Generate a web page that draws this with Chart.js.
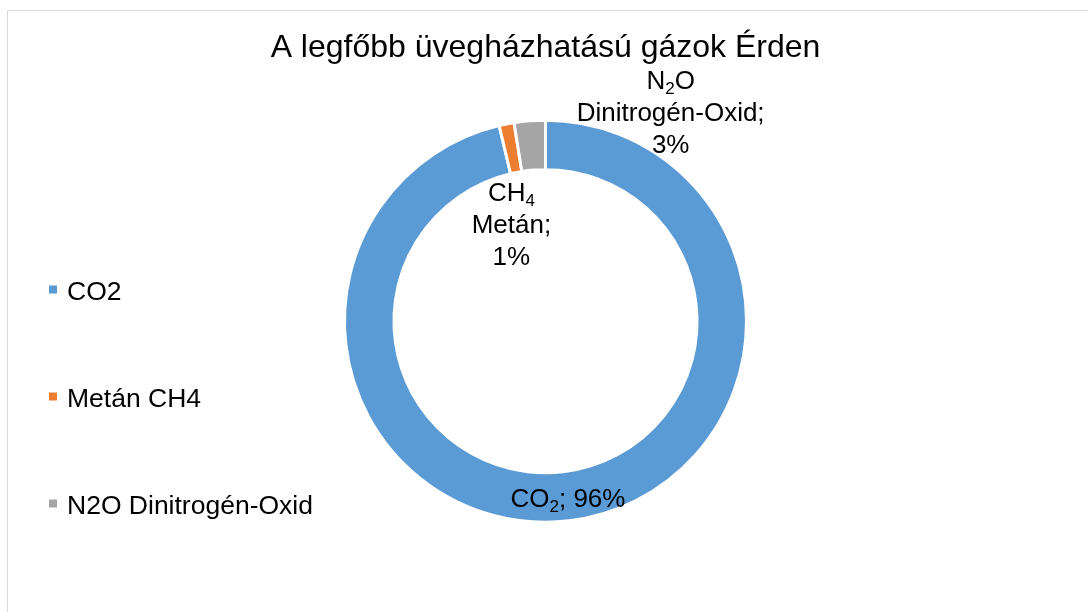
<!DOCTYPE html>
<html>
<head>
<meta charset="utf-8">
<script src="https://cdn.jsdelivr.net/npm/chart.js@4.4.1/dist/chart.umd.min.js"></script>
<style>
    html, body { margin: 0; padding: 0; background: #fff; overflow: hidden; }
    #frame { position: absolute; left: 7px; top: 10px; width: 1200px; height: 700px; border: 1px solid #d9d9d9; }
    #wrap { position: absolute; left: 0; top: 0; width: 1088px; height: 612px; }
</style>
</head>
<body>
<div id="frame"></div>
<div id="wrap"><canvas id="chart"></canvas></div>
<script>
const categories = ['CO2', 'Metán CH4', 'N2O Dinitrogén-Oxid'];
const shares = [96.3, 1.2, 2.5];
const sliceColors = ['#5B9BD5', '#ED7D31', '#A5A5A5'];
// "_2" means subscript 2, {p} is replaced by the rounded percentage
const dataLabelTexts = ['CO_2; {p}', 'CH_4\nMetán;\n{p}', 'N_2O\nDinitrogén-Oxid;\n{p}'];
const chartTitle = 'A legfőbb üvegházhatású gázok Érden';

const FONT = "'Liberation Sans', Arial, sans-serif";

function splitSub(line) {
    const parts = [];
    const re = /_(\d)/g;
    let last = 0, m;
    while ((m = re.exec(line))) {
        if (m.index > last) parts.push({ t: line.slice(last, m.index) });
        parts.push({ t: m[1], sub: true });
        last = re.lastIndex;
    }
    if (last < line.length) parts.push({ t: line.slice(last) });
    return parts;
}

// draws one line with subscripts, caps centred on cy
function drawRichLine(ctx, line, cx, cy, size) {
    const parts = splitSub(line);
    const subSize = Math.round(size * 0.66);
    let total = 0;
    parts.forEach(p => {
        ctx.font = (p.sub ? subSize : size) + 'px ' + FONT;
        p.w = ctx.measureText(p.t).width;
        total += p.w;
    });
    let x = cx - total / 2;
    const base = cy + size * 0.358;
    parts.forEach(p => {
        ctx.font = (p.sub ? subSize : size) + 'px ' + FONT;
        ctx.fillText(p.t, x, p.sub ? base + size * 0.19 : base);
        x += p.w;
    });
}

const dataLabelPlugin = {
    id: 'sliceLabels',
    afterDatasetsDraw(chart, args, opts) {
        const ctx = chart.ctx;
        const meta = chart.getDatasetMeta(0);
        const total = shares.reduce((a, b) => a + b, 0);
        ctx.save();
        ctx.fillStyle = opts.color;
        ctx.textAlign = 'left';
        ctx.textBaseline = 'alphabetic';
        meta.data.forEach((arc, i) => {
            const pos = arc.tooltipPosition();
            const off = opts.offsets[i] || [0, 0];
            const pct = Math.round(shares[i] / total * 100) + '%';
            const lines = dataLabelTexts[i].replace('{p}', pct).split('\n');
            const cx = pos.x + off[0];
            const cy = pos.y + off[1];
            lines.forEach((line, j) => {
                const ly = cy + (j - (lines.length - 1) / 2) * opts.lineHeight;
                drawRichLine(ctx, line, cx, ly, opts.size);
            });
        });
        ctx.restore();
    }
};

const sideLegendPlugin = {
    id: 'sideLegend',
    afterDraw(chart, args, opts) {
        const ctx = chart.ctx;
        ctx.save();
        ctx.textBaseline = 'alphabetic';
        ctx.textAlign = 'left';
        ctx.font = opts.size + 'px ' + FONT;
        categories.forEach((name, i) => {
            const y = opts.y + i * opts.gap;
            ctx.fillStyle = sliceColors[i];
            ctx.fillRect(opts.x, y - opts.box / 2 - 1.5, opts.box, opts.box);
            ctx.fillStyle = opts.color;
            ctx.fillText(name, opts.x + opts.box + opts.textGap, y + opts.size * 0.358);
        });
        ctx.restore();
    }
};

const chart = new Chart(document.getElementById('chart').getContext('2d'), {
    type: 'doughnut',
    data: {
        labels: categories,
        datasets: [{
            data: shares,
            backgroundColor: sliceColors,
            borderColor: '#ffffff',
            borderWidth: 3,
            radius: 201,
            hoverOffset: 0
        }]
    },
    options: {
        responsive: true,
        maintainAspectRatio: false,
        animation: false,
        cutout: '75.4%',
        layout: { padding: { left: 3, right: 0, top: 19, bottom: 47 } },
        plugins: {
            legend: { display: false },
            tooltip: { enabled: false },
            title: {
                display: true,
                text: chartTitle,
                color: '#000000',
                font: { family: FONT, size: 32, weight: 'normal' },
                padding: { top: 10, bottom: 10 }
            },
            sliceLabels: {
                color: '#000000',
                size: 26,
                lineHeight: 32,
                offsets: [[2, 1], [0, 75], [139, -34]]
            },
            sideLegend: {
                color: '#000000',
                size: 26.5,
                x: 49,
                y: 291,
                gap: 107,
                box: 8,
                textGap: 10
            }
        }
    },
    plugins: [dataLabelPlugin, sideLegendPlugin]
});
</script>
</body>
</html>
